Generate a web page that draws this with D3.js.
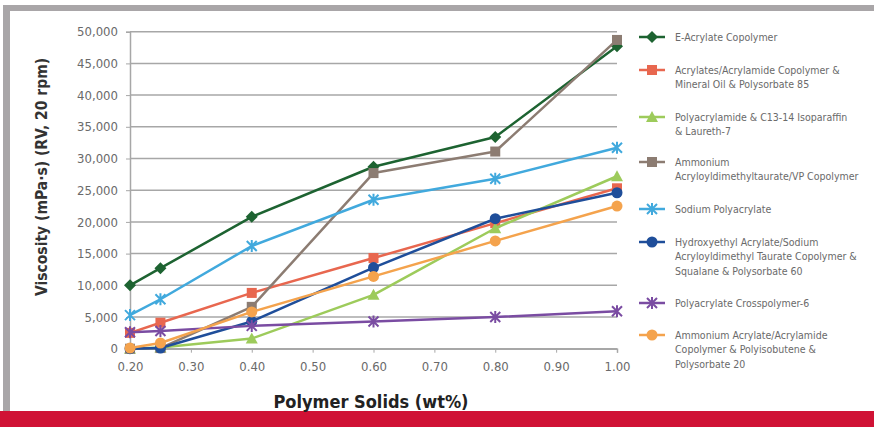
<!DOCTYPE html>
<html><head><meta charset="utf-8">
<script src="https://cdn.jsdelivr.net/npm/d3@7"></script>
<style>
html,body{margin:0;padding:0;background:#fff;}
svg{display:block;}
</style></head>
<body>
<svg id="chart" width="874" height="427"></svg>
<script>
// ---- data ----
const xValues = [0.20, 0.25, 0.40, 0.60, 0.80, 1.00];
const seriesNames = [
  ["E-Acrylate Copolymer"],
  ["Acrylates/Acrylamide Copolymer &", "Mineral Oil & Polysorbate 85"],
  ["Polyacrylamide & C13-14 Isoparaffin", "& Laureth-7"],
  ["Ammonium", "Acryloyldimethyltaurate/VP Copolymer"],
  ["Sodium Polyacrylate"],
  ["Hydroxyethyl Acrylate/Sodium", "Acryloyldimethyl Taurate Copolymer &", "Squalane & Polysorbate 60"],
  ["Polyacrylate Crosspolymer-6"],
  ["Ammonium Acrylate/Acrylamide", "Copolymer & Polyisobutene &", "Polysorbate 20"]
];
const eAcrylate      = [10000, 12700, 20800, 28700, 33400, 47700];
const acrylatesAcryl = [2500, 4100, 8800, 14300, 19800, 25300];
const polyacrylamide = [0, 200, 1600, 8500, 19000, 27200];
const ammoniumVP     = [0, 100, 6600, 27700, 31100, 48700];
const sodiumPolyacr  = [5300, 7800, 16200, 23500, 26800, 31700];
const hydroxyethyl   = [0, 100, 4300, 12800, 20500, 24600];
const crosspolymer6  = [2600, 2800, 3600, 4300, 5000, 5900];
const ammoniumAcryl  = [100, 900, 5800, 11400, 17000, 22500];
const seriesValues = [eAcrylate, acrylatesAcryl, polyacrylamide, ammoniumVP, sodiumPolyacr, hydroxyethyl, crosspolymer6, ammoniumAcryl];
const xTicks = [0.2, 0.3, 0.4, 0.5, 0.6, 0.7, 0.8, 0.9, 1.0];
const yTicks = [0, 5000, 10000, 15000, 20000, 25000, 30000, 35000, 40000, 45000, 50000];
const yTitle = "Viscosity (mPa\u00b7s) (RV, 20 rpm)";
const xTitle = "Polymer Solids (wt%)";

// ---- styles ----
const colors = ["#1d6331", "#e8674f", "#9dcb5b", "#8c7c72", "#41a9dd", "#1f4e9a", "#7a4ca2", "#f4a34d"];
const markers = ["diamond", "square", "triangle", "square", "star", "circle", "cross", "circle"];

const svg = d3.select("#chart");
const W = 874, H = 427;
// frame
svg.append("rect").attr("x", 0).attr("y", 0).attr("width", W).attr("height", H).attr("fill", "#fff");
svg.append("rect").attr("x", 3).attr("y", 5).attr("width", W - 3).attr("height", 6).attr("fill", "#a9a6a8");
svg.append("rect").attr("x", 3).attr("y", 5).attr("width", 7).attr("height", 406).attr("fill", "#a9a6a8");
svg.append("rect").attr("x", 0).attr("y", 411).attr("width", W).attr("height", 16).attr("fill", "#d01235");

const x = d3.scaleLinear().domain([0.2, 1.0]).range([130, 617]);
const y = d3.scaleLinear().domain([0, 50000]).range([348.7, 31.7]);

const font = "'Liberation Sans Narrow','DejaVu Sans Condensed','Open Sans',sans-serif";

// gridlines
svg.append("g").selectAll("line").data(yTicks).join("line")
  .attr("x1", x(0.2)).attr("x2", x(1.0))
  .attr("y1", d => y(d)).attr("y2", d => y(d))
  .attr("stroke", "#a7a7a7").attr("stroke-width", 1.5);

// y axis
const yAxis = svg.append("g").attr("transform", `translate(${x(0.2)},0)`)
  .call(d3.axisLeft(y).tickValues(yTicks).tickSize(4).tickPadding(8).tickFormat(d3.format(",")));
yAxis.select(".domain").attr("stroke", "#a7a7a7").attr("stroke-width", 1.5);
yAxis.selectAll(".tick line").attr("stroke", "#a7a7a7");
yAxis.selectAll("text").attr("font-family", font).attr("font-size", 13).attr("fill", "#6a6a6a");

// x axis
const xAxis = svg.append("g").attr("transform", `translate(0,${y(0)})`)
  .call(d3.axisBottom(x).tickValues(xTicks).tickSize(4).tickPadding(9).tickFormat(d3.format(".2f")));
xAxis.select(".domain").attr("stroke", "#a7a7a7").attr("stroke-width", 1.5);
xAxis.selectAll(".tick line").attr("stroke", "#a7a7a7");
xAxis.selectAll("text").attr("font-family", font).attr("font-size", 13).attr("fill", "#6a6a6a");

// titles
svg.append("text").attr("transform", "translate(47,177) rotate(-90)")
  .attr("text-anchor", "middle").attr("font-family", font).attr("font-weight", "bold")
  .attr("font-size", 15.5).attr("fill", "#333").text(yTitle);
svg.append("text").attr("x", 371).attr("y", 408)
  .attr("text-anchor", "middle").attr("font-family", font).attr("font-weight", "bold")
  .attr("font-size", 18).attr("fill", "#222").text(xTitle);

// marker drawer
function drawMarker(g, type, color, cx, cy) {
  const s = 5;
  if (type === "diamond") {
    g.append("path").attr("d", `M${cx},${cy - s - 1}L${cx + s + 1},${cy}L${cx},${cy + s + 1}L${cx - s - 1},${cy}Z`).attr("fill", color);
  } else if (type === "square") {
    g.append("rect").attr("x", cx - s).attr("y", cy - s).attr("width", 2 * s).attr("height", 2 * s).attr("fill", color);
  } else if (type === "triangle") {
    g.append("path").attr("d", `M${cx},${cy - s - 1}L${cx + s + 1},${cy + s}L${cx - s - 1},${cy + s}Z`).attr("fill", color);
  } else if (type === "circle") {
    g.append("circle").attr("cx", cx).attr("cy", cy).attr("r", s + 0.5).attr("fill", color);
  } else if (type === "star" || type === "cross") {
    const p = `M${cx - s},${cy - s}L${cx + s},${cy + s}M${cx - s},${cy + s}L${cx + s},${cy - s}M${cx},${cy - s - 1}L${cx},${cy + s + 1}`;
    g.append("path").attr("d", p).attr("stroke", color).attr("stroke-width", 2).attr("fill", "none");
  }
}

// series
const line = d3.line().x(d => x(d[0])).y(d => y(d[1]));
seriesValues.forEach((vals, i) => {
  const pts = xValues.map((xv, j) => [xv, vals[j]]);
  const g = svg.append("g");
  g.append("path").attr("d", line(pts)).attr("fill", "none")
    .attr("stroke", colors[i]).attr("stroke-width", 2.5).attr("stroke-linejoin", "round");
  pts.forEach(p => drawMarker(g, markers[i], colors[i], x(p[0]), y(p[1])));
});

// legend
const legendStarts = [37, 70, 117, 162, 209, 242, 303, 335];
const leg = svg.append("g");
seriesNames.forEach((lines, i) => {
  const cy = legendStarts[i];
  leg.append("line").attr("x1", 639).attr("x2", 665).attr("y1", cy).attr("y2", cy)
    .attr("stroke", colors[i]).attr("stroke-width", 2.5);
  drawMarker(leg, markers[i], colors[i], 652, cy);
  lines.forEach((t, k) => {
    leg.append("text").attr("x", 675).attr("y", cy + k * 14.5).attr("dy", "0.35em")
      .attr("font-family", font).attr("font-size", 10.5).attr("fill", "#6a6a6a").text(t);
  });
});
</script>
</body></html>
